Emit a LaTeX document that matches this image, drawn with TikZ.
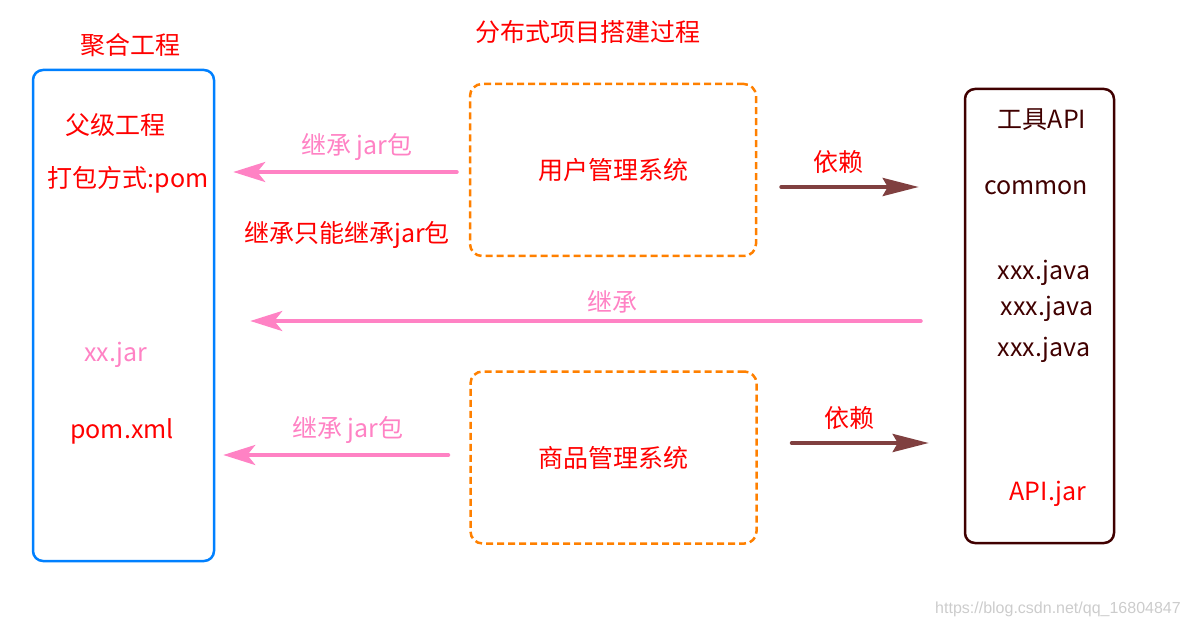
\documentclass[tikz,border=0pt]{standalone}
\usepackage{fontspec}
\setmainfont{Noto Sans CJK SC}
\newfontfamily\markfont{Liberation Sans}
\usetikzlibrary{arrows.meta}

\definecolor{redtxt}{RGB}{255,0,0}
\definecolor{pinkline}{RGB}{255,130,196}
\definecolor{bluebox}{RGB}{0,128,255}
\definecolor{orangebox}{RGB}{255,128,0}
\definecolor{brownbox}{RGB}{64,0,0}
\definecolor{brownline}{RGB}{128,64,64}

\begin{document}
\begin{tikzpicture}[x=1pt,y=-1pt,
    every node/.style={inner sep=0pt},
    lbl/.style={font=\fontsize{25}{29}\selectfont, text=redtxt},
    pinklbl/.style={lbl, text=pinkline},
    brownlbl/.style={lbl, text=brownbox},
    parentbox/.style={draw=bluebox, line width=2.5pt, rounded corners=10pt,
      minimum width=181pt, minimum height=491pt},
    sysbox/.style={lbl, draw=orangebox, line width=2.5pt, dash pattern=on 7pt off 4pt,
      rounded corners=12pt, minimum width=286pt, minimum height=172pt},
    toolbox/.style={draw=brownbox, line width=2.5pt, rounded corners=10pt,
      minimum width=149pt, minimum height=454pt},
    inherit/.style={draw=pinkline, line width=4pt, line cap=round,
      -{Stealth[length=32pt,width=20pt,inset=8pt]}},
    depend/.style={draw=brownline, line width=4pt, line cap=round,
      -{Stealth[length=36pt,width=18pt,inset=5pt]}}
  ]
  \useasboundingbox (0,0) rectangle (1188,628);

  % boxes
  \node[parentbox] (parent) at (123.5,315.5) {};
  \node[sysbox] (user) at (613,170) {用户管理系统};
  \node[sysbox] (goods) at (613.5,457.5) {商品管理系统};
  \node[toolbox] (tool) at (1039.5,316) {};

  % texts
  \node[lbl] (title) at (588,32) {分布式项目搭建过程};
  \node[lbl] (aggr) at (130,45) {聚合工程};
  \node[lbl] (fath) at (115,125) {父级工程};
  \node[lbl] (pack) at (128,180) {打包方式:pom};
  \node[pinklbl] (xxjar) at (116,355) {xx.jar};
  \node[lbl] (pomxml) at (122,431) {pom.xml};
  \node[lbl] (only) at (347,235) {继承只能继承jar包};
  \node[pinklbl] (inh1) at (357,147) {继承 jar包};
  \node[pinklbl] (inh2) at (612,302) {继承};
  \node[pinklbl] (inh3) at (348,430) {继承 jar包};
  \node[lbl] (dep1) at (838,162) {依赖};
  \node[lbl] (dep2) at (849,418) {依赖};
  \node[brownlbl] (toolname) at (1042,120) {工具API};
  \node[brownlbl] (common) at (1036,188) {common};
  \node[brownlbl] (java1) at (1044,273) {xxx.java};
  \node[brownlbl] (java2) at (1047,309) {xxx.java};
  \node[brownlbl] (java3) at (1044,350) {xxx.java};
  \node[lbl] (apijar) at (1048,494) {API.jar};
  \node[font=\markfont\fontsize{16}{18}\selectfont, text=black!20] (mark) at (1058,609)
    {https://blog.csdn.net/qq\_16804847};

  % arrows
  \draw[inherit, shorten <=12pt, shorten >=18pt] ([yshift=-2pt]user.west) -- ([yshift=-2pt]user.west -| parent.east);
  \draw[inherit, shorten <=43pt, shorten >=35pt] ([yshift=-5pt]tool.west) -- ([yshift=-5pt]tool.west -| parent.east);
  \draw[inherit, shorten <=21pt, shorten >=8pt] ([yshift=2.5pt]goods.west) -- ([yshift=2.5pt]goods.west -| parent.east);
  \draw[depend, shorten <=24pt, shorten >=45pt] ([yshift=-17pt]user.east) -- ([yshift=-17pt]user.east -| tool.west);
  \draw[depend, shorten <=34pt, shorten >=35pt] ([yshift=14.5pt]goods.east) -- ([yshift=14.5pt]goods.east -| tool.west);
\end{tikzpicture}
\end{document}
